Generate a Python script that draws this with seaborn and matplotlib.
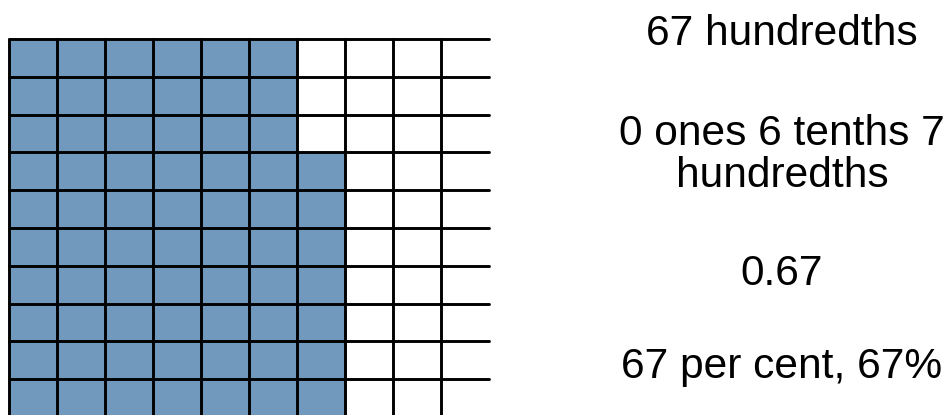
import numpy as np
import pandas as pd
import matplotlib
matplotlib.use("Agg")
import matplotlib.pyplot as plt
from matplotlib.colors import ListedColormap
import seaborn as sns

# shaded squares in each row of the hundredths grid (top to bottom)
filled_per_row = [6, 6, 6, 7, 7, 7, 7, 7, 7, 7]
n_cols = 10
labels = ["67 hundredths", "0 ones 6 tenths 7\nhundredths", "0.67", "67 per cent, 67%"]

sns.set_style("white")
plt.rcParams['font.family'] = ['Liberation Sans', 'DejaVu Sans']

grid = pd.DataFrame([[1 if c < k else 0 for c in range(n_cols)] for k in filled_per_row])

fig = plt.figure(figsize=(9.49, 4.15), dpi=100)
ax = fig.add_axes([9 / 949, -2 / 415, 480 / 949, 378 / 415])
sns.heatmap(grid, ax=ax, cmap=ListedColormap(["#ffffff", "#7199be"]), cbar=False,
            linewidths=0, xticklabels=False, yticklabels=False, vmin=0, vmax=1)
for s in ax.spines.values():
    s.set_visible(False)

lw = 2.1
for i in range(len(filled_per_row) + 1):
    ax.axhline(i, color="black", lw=lw, clip_on=False)
for j in range(n_cols):
    ax.axvline(j, color="black", lw=lw, clip_on=False)

# text on the right, baseline of the last line of each label (pixels from top)
baselines = [45, 187, 285, 378]
for lab, yb in zip(labels, baselines):
    fig.text(782 / 949, 1 - yb / 415, lab, ha="center", va="baseline", color="black",
             fontsize=30.6, multialignment="center", linespacing=1.08)

fig.savefig("out.png", dpi=100)
